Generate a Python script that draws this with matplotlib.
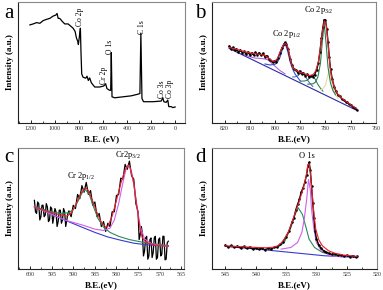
import matplotlib
matplotlib.use("Agg")
import matplotlib.pyplot as plt
from matplotlib.ticker import MultipleLocator

plt.rcParams['font.family'] = ['Liberation Serif', 'DejaVu Serif']
plt.rcParams['mathtext.fontset'] = 'stix'

# ---- panel a: survey spectrum ----
a_x = [1208, 1181, 1153, 1125, 1098, 1070, 1042, 1015, 993, 982, 973, 960, 937, 918, 890, 871,
       849, 832, 821, 810, 805, 796, 788, 783, 777, 766, 744, 733, 722, 711, 697, 669, 628, 594,
       578, 567, 545, 536, 531, 525, 503, 434, 365, 310, 293, 285, 276, 263, 185, 116, 102, 94,
       75, 61, 53, 33, 19, 0]
a_y = [300, 303, 307, 305, 313, 317, 320, 327, 330, 335, 320, 320, 310, 303, 303, 297,
       290, 280, 260, 250, 240, 265, 290, 215, 150, 140, 137, 143, 130, 138, 123, 110, 110, 113,
       120, 105, 100, 100, 215, 80, 77, 80, 83, 88, 90, 275, 75, 65, 65, 67, 77, 65,
       63, 70, 50, 50, 47, 49]
a_peaks = ["Co 2p", "O 1s", "C 1s", "Cr 2p", "Co 3s", "Co 3p"]
a_peak_x = [790, 538, 278, 594, 110, 40]
a_peak_y = [325, 232, 292, 145, 103, 103]

# ---- panel b: Co 2p ----
b_x = [818.2, 817.5, 816.8, 816.0, 815.3, 814.5, 813.8, 813.0, 812.3, 811.5, 810.8, 810.0, 809.3,
       808.5, 807.8, 807.0, 806.3, 805.5, 804.8, 804.0, 803.3, 802.5, 801.8, 801.0, 800.3, 799.5,
       798.8, 798.0, 797.3, 796.5, 796.0, 795.5, 794.8, 794.0, 793.3, 792.5, 791.8, 791.0, 790.3,
       789.5, 788.8, 788.0, 787.3, 786.5, 785.8, 785.0, 784.3, 783.5, 782.8, 782.2, 781.6, 781.0,
       780.5, 780.0, 779.5, 779.0, 778.5, 778.0, 777.3, 776.5, 775.8, 775.0, 774.3, 773.5, 772.8,
       772.0, 771.3, 770.5, 769.8, 769.0, 768.3, 767.6]
b_y = [232, 224, 228, 219, 224, 214, 220, 212, 216, 208, 214, 206, 211,
       205, 213, 206, 212, 204, 210, 200, 203, 194, 190, 183, 187, 184,
       197, 212, 226, 238, 243, 238, 222, 194, 176, 163, 160, 152, 157,
       148, 152, 143, 147, 139, 142, 140, 146, 160, 182, 215, 255, 290,
       312, 310, 285, 245, 200, 162, 132, 108, 95, 84, 80, 72, 70,
       64, 62, 56, 55, 48, 46, 40]
b_fit_x = [818.2, 815, 812, 809, 806.5, 804, 802.6, 801.3, 800.2, 799, 797.8, 796.8, 796, 795.2,
           794.4, 793.6, 792.7, 791.4, 790.1, 788.7, 787.4, 786.1, 784.8, 783.9, 782.8, 782,
           781.2, 780.4, 779.7, 779.1, 778.3, 777.5, 776.5, 775.2, 773.6, 772, 770.3, 768.6, 767.6]
b_fit_y = [228, 222, 215, 210, 208, 204, 196, 188, 186, 195, 218, 234, 240, 236,
           210, 180, 165, 157, 153, 150, 146, 143, 147, 157, 185, 228,
           278, 308, 296, 250, 178, 135, 108, 88, 75, 66, 57, 48, 43]
b_base_x = [818.2, 767.6]
b_base_y = [225, 38]
b_p1_x = [790, 792, 793, 794, 795, 796, 797, 798, 799, 800, 802, 804]
b_p1_y = [127, 147, 162, 184, 217, 240, 224, 199, 184, 177, 175, 178]
b_sat1_x = [796, 798, 800, 802, 803, 804, 806, 808, 810, 813]
b_sat1_y = [148, 158, 171, 185, 191, 193, 195, 196, 200, 208]
b_p3_x = [776, 777, 778, 779, 779.7, 780.5, 781.3, 782, 783, 784, 785, 787]
b_p3_y = [85, 97, 120, 169, 235, 301, 241, 180, 139, 123, 118, 117]
b_p3b_x = [775, 776, 777, 777.8, 778.5, 779.2, 780, 781, 782]
b_p3b_y = [74, 85, 104, 135, 159, 140, 115, 103, 100]
b_sat2_x = [781, 782, 783, 784, 785, 786, 787, 788, 790]
b_sat2_y = [96, 105, 116, 131, 143, 139, 130, 127, 126]
b_sat3_x = [785, 786, 787, 788, 789, 790, 791, 792, 793]
b_sat3_y = [110, 118, 128, 142, 152, 149, 142, 139, 139]

# ---- panel c: Cr 2p ----
c_x = [599, 598.75, 598.5, 598.25, 598, 597.75, 597.5, 597.25, 597, 596.75, 596.5, 596.25, 596,
       595.75, 595.5, 595.25, 595, 594.75, 594.5, 594.25, 594, 593.75, 593.5, 593.25, 593,
       592.75, 592.5, 592.25, 592, 591.75, 591.5, 591.25, 591, 590.5, 590, 589.5, 589, 588.5,
       588, 587.5, 587, 586.5, 586, 585.5, 585, 584.5, 584, 583.5, 583, 582.5, 582, 581.5, 581,
       580.5, 580, 579.5, 579, 578.5, 578, 577.5, 577, 576.5, 576, 575.5, 575, 574.75, 574.5,
       574.25, 574, 573.75, 573.5, 573.25, 573, 572.75, 572.5, 572.25, 572, 571.75, 571.5,
       571.25, 571, 570.75, 570.5, 570.25, 570, 569.75, 569.5, 569.25, 569, 568.75, 568.5,
       568.25, 568]
c_y = [210, 175, 170, 205, 200, 150, 160, 195, 195, 160, 165, 200, 190,
       145, 150, 190, 185, 140, 160, 185, 175, 130, 145, 180, 180,
       140, 150, 185, 175, 130, 150, 170, 178, 160, 195, 185, 228, 215,
       255, 235, 265, 228, 240, 195, 205, 160, 170, 130, 145, 115, 140, 130, 175,
       175, 225, 228, 278, 275, 320, 305, 330, 285, 275, 200, 175, 90, 105,
       130, 110, 40, 55, 95, 100, 30, 40, 90, 95, 35, 50,
       95, 100, 30, 35, 90, 95, 40, 45, 100, 100, 28, 30,
       80, 85]
c_fit_x = [599, 597, 595, 593, 591.5, 590.5, 589.5, 588.5, 587.5, 587, 586.5, 585.5, 584.5, 583.5,
           582.5, 582, 581, 580, 579, 578, 577.5, 577, 576.5, 576, 575.5, 575, 574.5, 574, 573,
           571, 568]
c_fit_y = [190, 180, 173, 165, 162, 170, 195, 225, 245, 247, 240, 208, 172, 143,
           128, 130, 162, 210, 262, 303, 315, 316, 295, 262, 215, 165, 120, 95, 80,
           73, 70]
c_base_x = [599, 595, 591.5, 588, 585, 582, 579, 576, 573, 568]
c_base_y = [190, 168, 147, 128, 112, 98, 88, 79, 74, 70]
c_p1_x = [599, 596, 593, 591, 590, 589, 588, 587.2, 586.3, 585.3, 584.3, 583, 581.5, 579.5,
          577, 574, 571, 568]
c_p1_y = [192, 178, 170, 172, 182, 205, 232, 243, 228, 190, 155, 128, 112, 100,
          90, 82, 76, 72]
c_p3_x = [599, 592, 588, 585, 583, 581.5, 580.5, 579.5, 578.5, 577.8, 577.3, 576.7, 576, 575.3,
          574.5, 573.5, 572, 570, 568]
c_p3_y = [190, 150, 135, 122, 118, 125, 150, 200, 265, 305, 318, 305, 260, 195,
          130, 92, 78, 72, 70]

# ---- panel d: O 1s ----
d_x = [545.0, 544.5, 544.0, 543.5, 543.0, 542.5, 542.0, 541.5, 541.0, 540.5, 540.0, 539.5, 539.0,
       538.5, 538.0, 537.5, 537.0, 536.5, 536.0, 535.5, 535.0, 534.5, 534.0, 533.7, 533.4, 533.1,
       532.8, 532.5, 532.2, 531.9, 531.6, 531.4, 531.2, 531.0, 530.8, 530.6, 530.4, 530.2, 530.0,
       529.6, 529.2, 528.8, 528.4, 528.0, 527.5, 527.0, 526.5, 526.0, 525.5, 525.0, 524.5, 524.0,
       523.5, 523.3]
d_y = [72, 66, 71, 65, 69, 63, 68, 62, 66, 60, 64, 59, 63,
       58, 62, 60, 65, 66, 74, 82, 98, 115, 142, 155, 178, 195,
       210, 232, 245, 262, 285, 310, 322, 300, 250, 200, 155, 115, 92,
       72, 62, 55, 50, 48, 44, 46, 41, 43, 39, 41, 37, 40,
       36, 38]
d_fit_x = [545, 541, 538.3, 537, 536.4, 535.8, 535.3, 534.7, 534.2, 533.7, 533.2, 532.8, 532.4,
           532.0, 531.7, 531.4, 531.2, 531.0, 530.7, 530.4, 530.1, 529.6, 529.0, 528.0, 527.0,
           525.5, 523.3]
d_fit_y = [70, 66, 64, 66, 70, 78, 90, 108, 132, 158, 185, 205, 230,
           255, 280, 315, 318, 290, 230, 165, 120, 88, 70, 55, 48,
           42, 38]
d_base_x = [545, 539.7, 534.2, 528.7, 523.3]
d_base_y = [68, 60, 50, 40, 35]
d_p1_x = [536.4, 535.3, 534.2, 533.6, 533.0, 532.3, 531.7, 531.2, 530.3, 529.0, 527.0]
d_p1_y = [65, 80, 125, 160, 185, 165, 125, 90, 65, 50, 40]
d_p2_x = [535.8, 534.2, 533.1, 532.4, 532.0, 531.6, 531.3, 531.0, 530.8, 530.4, 530.0, 529.2,
          527.6, 525.4]
d_p2_y = [60, 65, 80, 110, 150, 210, 270, 240, 180, 120, 80, 55, 40, 36]

W, H = 383.0, 290.0
fig = plt.figure(figsize=(3.83, 2.90), dpi=100)


def px(x, y):
    return x / W, 1 - y / H


def make_ax(rect, xlim, ylim, major, minor, xlabel, letter, lx, ly):
    ax = fig.add_axes(rect)
    ax.set_xlim(*xlim)
    ax.set_ylim(*ylim)
    ax.xaxis.set_major_locator(MultipleLocator(major))
    ax.xaxis.set_minor_locator(MultipleLocator(minor))
    ax.set_yticks([])
    ax.tick_params(axis='x', which='major', direction='in', length=2.5, width=0.6,
                   labelsize=4.3, pad=2.5, labelcolor='#333333')
    ax.tick_params(axis='x', which='minor', direction='in', length=1.5, width=0.5)
    for s in ['top', 'right']:
        ax.spines[s].set_color('#888888')
        ax.spines[s].set_linewidth(0.8)
    for s in ['left', 'bottom']:
        ax.spines[s].set_color('#222222')
        ax.spines[s].set_linewidth(0.8)
    ax.set_xlabel(xlabel, fontsize=6.5, fontweight='bold', labelpad=3)
    ax.set_ylabel('Intensity (a.u.)', fontsize=6.5, fontweight='bold', labelpad=3)
    fx, fy = px(lx, ly)
    fig.text(fx, fy, letter, fontsize=15, ha='center', va='center')
    return ax


# a
ax = make_ax([0.047, 0.576, 0.436, 0.417], (1307, -82), (0, 370), 200, 100,
             'B.E. (eV)', 'a', 9, 14)
ax.plot(a_x, a_y, color='black', lw=0.9)
for lab, x, y in zip(a_peaks, a_peak_x, a_peak_y):
    ax.text(x, y, lab, rotation=90, fontsize=5.5, ha='center', va='center')

# b
ax = make_ax([0.5535, 0.576, 0.428, 0.417], (825, 760), (0, 365), 10, 5,
             'B.E.(eV)', 'b', 200, 13)
ax.plot(b_base_x, b_base_y, color='#2a2aa8', lw=0.8)
ax.plot(b_sat1_x, b_sat1_y, color='#b050e0', lw=0.7)
ax.plot(b_p1_x, b_p1_y, color='#3050d0', lw=0.8)
ax.plot(b_sat3_x, b_sat3_y, color='#4060b8', lw=0.7)
ax.plot(b_sat2_x, b_sat2_y, color='#207050', lw=0.7)
ax.plot(b_p3b_x, b_p3b_y, color='#e0d890', lw=0.7)
ax.plot(b_p3_x, b_p3_y, color='#2a8050', lw=0.8)
ax.plot(b_x, b_y, color='black', lw=1.0, marker='o', ms=0.8)
ax.plot(b_fit_x, b_fit_y, color='#e8202a', lw=0.8)
ax.text(795.3, 267, 'Co 2p$_{\\mathregular{1/2}}$', fontsize=6, ha='center', va='center')
ax.text(782.5, 340, 'Co 2p$_{\\mathregular{3/2}}$', fontsize=6, ha='center', va='center')

# c
ax = make_ax([0.047, 0.0724, 0.433, 0.417], (602.8, 564.4), (0, 370), 5, 2.5,
             'B.E.(eV)', 'c', 9, 158)
ax.plot(c_x, c_y, color='black', lw=0.9)
ax.plot(c_base_x, c_base_y, color='#3a3ad0', lw=0.8)
ax.plot(c_p1_x, c_p1_y, color='#2a8a5a', lw=0.8)
ax.plot(c_p3_x, c_p3_y, color='#d060e8', lw=0.8)
ax.plot(c_fit_x, c_fit_y, color='#e8202a', lw=0.8)
ax.text(588.3, 285, 'Cr 2p$_{\\mathregular{1/2}}$', fontsize=6, ha='center', va='center')
ax.text(577.3, 350, 'Cr2p$_{\\mathregular{3/2}}$', fontsize=6, ha='center', va='center')

# d
ax = make_ax([0.5535, 0.0724, 0.431, 0.417], (547.2, 520), (0, 365), 5, 2.5,
             'B.E.(eV)', 'd', 200, 157)
ax.plot(d_base_x, d_base_y, color='#3a3ad0', lw=0.8)
ax.plot(d_p1_x, d_p1_y, color='#2a8a5a', lw=0.8)
ax.plot(d_p2_x, d_p2_y, color='#d060e8', lw=0.8)
ax.plot(d_x, d_y, color='black', lw=1.0, marker='o', ms=0.8)
ax.plot(d_fit_x, d_fit_y, color='#e8202a', lw=0.8)
ax.text(531.5, 340, 'O 1s', fontsize=6, ha='center', va='center')

fig.savefig('out.png', dpi=100)
